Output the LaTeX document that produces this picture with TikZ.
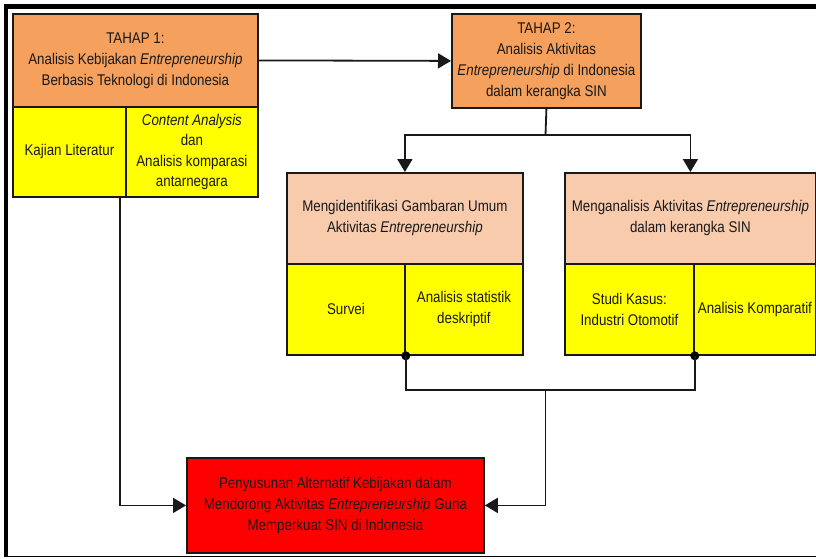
\documentclass[tikz,border=0pt]{standalone}
\usepackage{fontspec}
\setmainfont[FakeStretch=0.86]{Liberation Sans}
\usetikzlibrary{arrows.meta}
\definecolor{phase}{HTML}{F5A05C}
\definecolor{peach}{HTML}{F8CBAD}
\definecolor{cellyellow}{HTML}{FFFF00}
\definecolor{goalred}{HTML}{FF0000}
\tikzset{
  cell/.style={draw=black!90, line width=1.8pt, inner sep=0pt, anchor=north west,
    align=center, font={\fontsize{15.5}{21}\selectfont}, text=black!90},
  link/.style={line width=1.8pt, draw=black!90},
  arr/.style={link, -{Triangle[length=13pt,width=15pt]}},
  joint/.style={circle, fill=black, inner sep=0pt, minimum size=9pt}
}
\begin{document}
\begin{tikzpicture}[x=1pt,y=-1pt]
\useasboundingbox (0,0) rectangle (816,558);
% outer frame (left and top heavy, bottom thin)
\draw[line width=4.5pt] (6,557) -- (6,6.5) -- (816,6.5);
\draw[line width=1.5pt] (4,556.5) -- (816,556.5);

% stage 1
\node[cell, fill=phase, minimum width=245, minimum height=93] (t1) at (12,13)
  {TAHAP 1:\\Analisis Kebijakan \textit{Entrepreneurship}\\Berbasis Teknologi di Indonesia};
\node[cell, fill=cellyellow, minimum width=113, minimum height=90] (kaj) at (12,106)
  {Kajian Literatur};
\node[cell, fill=cellyellow, minimum width=132, minimum height=90, font={\fontsize{15.5}{20.5}\selectfont}] (cont) at (125,106)
  {\textit{Content Analysis}\\dan\\Analisis komparasi\\antarnegara};

% stage 2
\node[cell, fill=phase, minimum width=189, minimum height=94] (t2) at (451,13)
  {TAHAP 2:\\Analisis Aktivitas\\\textit{Entrepreneurship} di Indonesia\\dalam kerangka SIN};

% stage 2, first branch
\node[cell, fill=peach, minimum width=236, minimum height=91] (m1) at (286,172)
  {Mengidentifikasi Gambaran Umum\\Aktivitas \textit{Entrepreneurship}};
\node[cell, fill=cellyellow, minimum width=118, minimum height=91] (surv) at (286,263)
  {Survei};
\node[cell, fill=cellyellow, minimum width=118, minimum height=91] (stat) at (404,263)
  {Analisis statistik\\deskriptif};

% stage 2, second branch
\node[cell, fill=peach, minimum width=251, minimum height=91] (m2) at (564,172)
  {Menganalisis Aktivitas \textit{Entrepreneurship}\\dalam kerangka SIN};
\node[cell, fill=cellyellow, minimum width=129, minimum height=91] (stud) at (564,263)
  {Studi Kasus:\\Industri Otomotif};
\node[cell, fill=cellyellow, minimum width=122, minimum height=91] (komp) at (693,263)
  {Analisis Komparatif};

% outcome
\node[cell, fill=goalred, minimum width=297, minimum height=95] (goal) at (186,457)
  {Penyusunan Alternatif Kebijakan dalam\\Mendorong Aktivitas \textit{Entrepreneurship} Guna\\Memperkuat SIN di Indonesia};

% connectors
\draw[arr] (t1.east) -- (t2.west);
\coordinate (split) at (545.5,135);
\draw[link] (t2.south) -- (split);
\draw[arr] (split) -| (m1.north);
\draw[arr] (split) -| (m2.north);

\node[joint] (j1) at (surv.south east) {};
\node[joint] (j2) at (stud.south east) {};
\coordinate (merge) at (545.5,390);
\draw[link] (j1.center) |- (merge) -| (j2.center);
\draw[arr] (merge) |- (goal.east);

\coordinate (lit) at (120,196);
\draw[arr] (lit) |- (goal.west);
\end{tikzpicture}
\end{document}
